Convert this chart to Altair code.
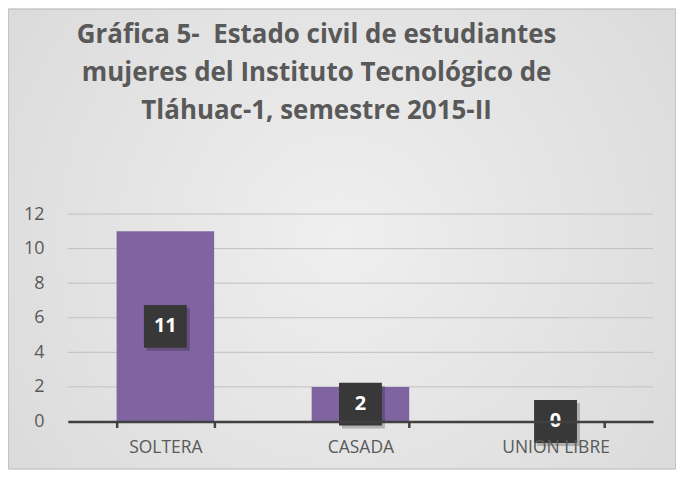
import altair as alt
import pandas as pd

categories = ["SOLTERA", "CASADA", "UNION LIBRE"]
values = [11, 2, 0]
y_ticks = [0, 2, 4, 6, 8, 10, 12]
title_lines = ["Gráfica 5-\u00a0 Estado civil de estudiantes",
               "mujeres del Instituto Tecnológico de",
               "Tláhuac-1, semestre 2015-II"]

df = pd.DataFrame({"cat": categories, "val": values})

W, H = 587, 208
PAD = {"left": 60, "top": 206, "right": 23, "bottom": 48}

y_scale = alt.Scale(domain=[0, 12])
x_scale = alt.Scale(paddingInner=0.5, paddingOuter=0.25)

x_axis = alt.Axis(title=None, labelAngle=0, labelFontSize=17.5,
                  labelColor="#595959", labelFont="Open Sans",
                  labelPadding=11, domainColor="#404040",
                  domainWidth=2.5, tickColor="#404040", tickWidth=2.5,
                  tickSize=6, tickBand="extent", grid=False, zindex=1,
                  labelOverlap=False)
y_axis = alt.Axis(title=None, values=y_ticks, labelFontSize=18,
                  labelColor="#595959", labelFont="Open Sans",
                  labelPadding=24, domain=False, ticks=False,
                  grid=False, zindex=1, labelOverlap=False)

X = alt.X("cat:N", sort=categories, scale=x_scale, axis=x_axis)

bg = alt.Chart(df).mark_rect(
    fill=alt.Gradient(gradient="radial",
                      stops=[alt.GradientStop(color="#efefef", offset=0),
                             alt.GradientStop(color="#d6d6d6", offset=1)],
                      x1=0.5, y1=0.5, r1=0, x2=0.5, y2=0.5, r2=0.75),
    stroke="#c4c4c4", strokeWidth=1
).encode(x=alt.value(-PAD["left"] + 0.5), x2=alt.value(W + PAD["right"] - 0.5),
         y=alt.value(-PAD["top"] + 0.5), y2=alt.value(H + PAD["bottom"] - 0.5))

grid = alt.Chart(pd.DataFrame({"t": y_ticks})).mark_rule(
    color="#c0c0c0", strokeWidth=1).encode(
    y=alt.Y("t:Q", scale=y_scale, axis=y_axis),
    x=alt.value(0), x2=alt.value(W))

bars = alt.Chart(df).mark_bar(color="#8064A2").encode(
    x=X,
    y=alt.Y("val:Q", scale=y_scale, axis=y_axis),
)

lab = alt.Chart(df).transform_calculate(mid="datum.val / 2")
ly = alt.Y("mid:Q", scale=y_scale, axis=y_axis)

shadow = lab.mark_square(size=1850, color="#000000", opacity=0.22,
                         xOffset=3, yOffset=3).encode(x=X, y=ly)
boxes = lab.mark_square(size=1850, color="#383838", opacity=1).encode(x=X, y=ly)
texts = lab.mark_text(color="white", fontSize=20, fontWeight="bold",
                      font="Open Sans", baseline="middle").encode(
    x=X, y=ly, text="val:Q")

chart = alt.layer(bg, grid, bars, shadow, boxes, texts).properties(
    width=W, height=H,
    title=alt.TitleParams(text=title_lines, fontSize=26, font="Open Sans",
                          fontWeight="bold", color="#595959", lineHeight=38.5,
                          anchor="middle", baseline="top", frame="group",
                          offset=-116, dx=-44, zindex=1),
    autosize=alt.AutoSizeParams(type="none"),
    padding=PAD,
).configure_view(stroke=None).configure(background="white")

chart.save("out.html", embed_options={"renderer": "svg", "actions": False})
